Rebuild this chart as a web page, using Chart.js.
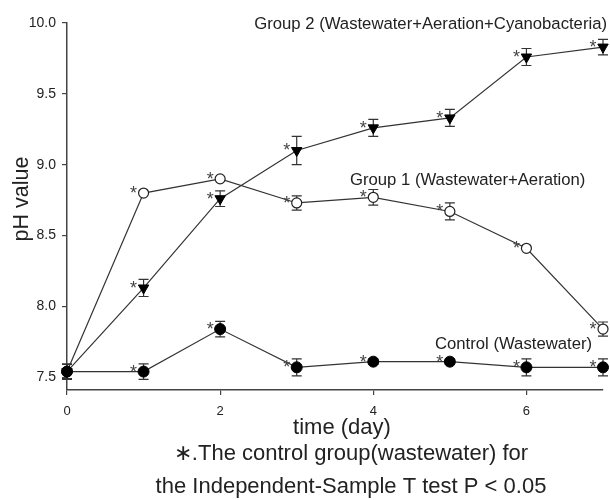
<!DOCTYPE html>
<html>
<head>
<meta charset="utf-8">
<script src="https://cdn.jsdelivr.net/npm/chart.js@4.4.1/dist/chart.umd.min.js"></script>
<style>
html,body{margin:0;padding:0;background:#fff;}
#wrap{width:610px;height:500px;}
</style>
</head>
<body>
<div id="wrap"><canvas id="c" width="610" height="500"></canvas></div>
<script>
const days = [0, 1, 2, 3, 4, 5, 6, 7];
const xTicks = [0, 2, 4, 6];
const yTicks = [7.5, 8.0, 8.5, 9.0, 9.5, 10.0];
const control = [7.54, 7.54, 7.84, 7.57, 7.61, 7.61, 7.57, 7.57];
const controlErr = [0.055, 0.055, 0.055, 0.06, 0.02, 0.02, 0.06, 0.06];
const group1 = [7.54, 8.80, 8.90, 8.73, 8.77, 8.67, 8.41, 7.84];
const group1Err = [0, 0, 0, 0.05, 0.055, 0.06, 0, 0.05];
const group2 = [7.54, 8.13, 8.76, 9.10, 9.26, 9.33, 9.76, 9.83];
const group2Err = [0.05, 0.06, 0.055, 0.10, 0.06, 0.06, 0.06, 0.055];
const seriesNames = ['Control (Wastewater)', 'Group 1 (Wastewater+Aeration)', 'Group 2 (Wastewater+Aeration+Cyanobacteria)'];
const starred = [false, true, true, true, true, true, true, true];

const FONT = "'Liberation Sans', Arial, sans-serif";
const INK = '#222';
const LINE = '#333';

function pts(vals) { return days.map((d, i) => ({x: d, y: vals[i]})); }

const errPlugin = {
  id: 'errs',
  beforeDatasetsDraw(chart) {
    const ctx = chart.ctx;
    const xs = chart.scales.x, ys = chart.scales.y;
    const errs = [controlErr, group1Err, group2Err];
    const vals = [control, group1, group2];
    ctx.save();
    ctx.strokeStyle = LINE;
    ctx.lineWidth = 1.2;
    for (let s = 0; s < 3; s++) {
      for (let i = 0; i < days.length; i++) {
        const e = errs[s][i];
        if (!e) continue;
        const x = xs.getPixelForValue(days[i]);
        const y1 = ys.getPixelForValue(vals[s][i] + e);
        const y2 = ys.getPixelForValue(vals[s][i] - e);
        ctx.beginPath();
        ctx.moveTo(x, y1); ctx.lineTo(x, y2);
        ctx.moveTo(x - 5, y1); ctx.lineTo(x + 5, y1);
        ctx.moveTo(x - 5, y2); ctx.lineTo(x + 5, y2);
        ctx.stroke();
      }
    }
    ctx.restore();
  },
  afterDatasetsDraw(chart) {
    const ctx = chart.ctx;
    const xs = chart.scales.x, ys = chart.scales.y;
    const vals = [control, group1, group2];
    ctx.save();
    ctx.fillStyle = '#444';
    ctx.font = '18px ' + FONT;
    ctx.textAlign = 'center';
    ctx.textBaseline = 'middle';
    for (let s = 0; s < 3; s++) {
      for (let i = 0; i < days.length; i++) {
        if (!starred[i]) continue;
        const x = xs.getPixelForValue(days[i]);
        const y = ys.getPixelForValue(vals[s][i]);
        ctx.fillText('*', x - 10, y + 1);
      }
    }
    ctx.restore();
  },
  afterDraw(chart) {
    const ctx = chart.ctx;
    ctx.save();
    ctx.fillStyle = INK;
    ctx.textBaseline = 'middle';
    ctx.font = '16.7px ' + FONT;
    ctx.textAlign = 'right';
    ctx.fillText(seriesNames[2], 607, 24);
    ctx.textAlign = 'left';
    ctx.fillText(seriesNames[1], 350, 180);
    ctx.fillText(seriesNames[0], 435, 344);
    ctx.textAlign = 'center';
    ctx.font = '22px ' + FONT;
    ctx.fillText('time (day)', 342, 428);
    ctx.fillText('\u2217.The control group(wastewater) for', 351, 454);
    ctx.fillText('the Independent-Sample T test P < 0.05', 351, 487);
    ctx.save();
    ctx.translate(22, 199);
    ctx.rotate(-Math.PI / 2);
    ctx.font = '21.5px ' + FONT;
    ctx.fillText('pH value', 0, 0);
    ctx.restore();
    ctx.restore();
  }
};

new Chart(document.getElementById('c'), {
  type: 'scatter',
  data: {
    datasets: [
      {
        label: seriesNames[0], data: pts(control), showLine: true,
        borderColor: LINE, borderWidth: 1.2,
        pointStyle: 'circle', pointRadius: 5.5, pointBackgroundColor: '#000', pointBorderColor: '#000', pointBorderWidth: 1,
        clip: false
      },
      {
        label: seriesNames[1], data: pts(group1), showLine: true,
        borderColor: LINE, borderWidth: 1.2,
        pointStyle: 'circle', pointRadius: 5, pointBackgroundColor: '#fff', pointBorderColor: '#222', pointBorderWidth: 1.2,
        clip: false
      },
      {
        label: seriesNames[2], data: pts(group2), showLine: true,
        borderColor: LINE, borderWidth: 1.2,
        pointStyle: 'triangle', rotation: 180, pointRadius: 6, pointBackgroundColor: '#000', pointBorderColor: '#000', pointBorderWidth: 1,
        clip: false
      }
    ]
  },
  plugins: [errPlugin],
  options: {
    responsive: false,
    animation: false,
    events: [],
    layout: { padding: { left: 0, right: 7, top: 23, bottom: 0 } },
    plugins: { legend: { display: false }, tooltip: { enabled: false } },
    scales: {
      x: {
        type: 'linear', min: 0, max: 7,
        afterBuildTicks(ax) { ax.ticks = xTicks.map(v => ({value: v})); },
        afterFit(ax) { ax.height = 110; },
        grid: { display: true, drawOnChartArea: false, tickLength: 5, color: '#444', lineWidth: 1.2 },
        border: { display: true, color: '#444', width: 1.5 },
        ticks: { font: { size: 13, family: FONT }, color: INK, padding: 9, maxRotation: 0, callback: v => String(v) }
      },
      y: {
        type: 'linear', min: 7.41, max: 10.0,
        afterBuildTicks(ax) { ax.ticks = yTicks.map(v => ({value: v})); },
        afterFit(ax) { ax.width = 67; },
        grid: { display: true, drawOnChartArea: false, tickLength: 5, color: '#444', lineWidth: 1.2 },
        border: { display: true, color: '#444', width: 1.5 },
        ticks: { font: { size: 14, family: FONT }, color: INK, padding: 6, callback: v => v.toFixed(1) }
      }
    }
  }
});
</script>
</body>
</html>
